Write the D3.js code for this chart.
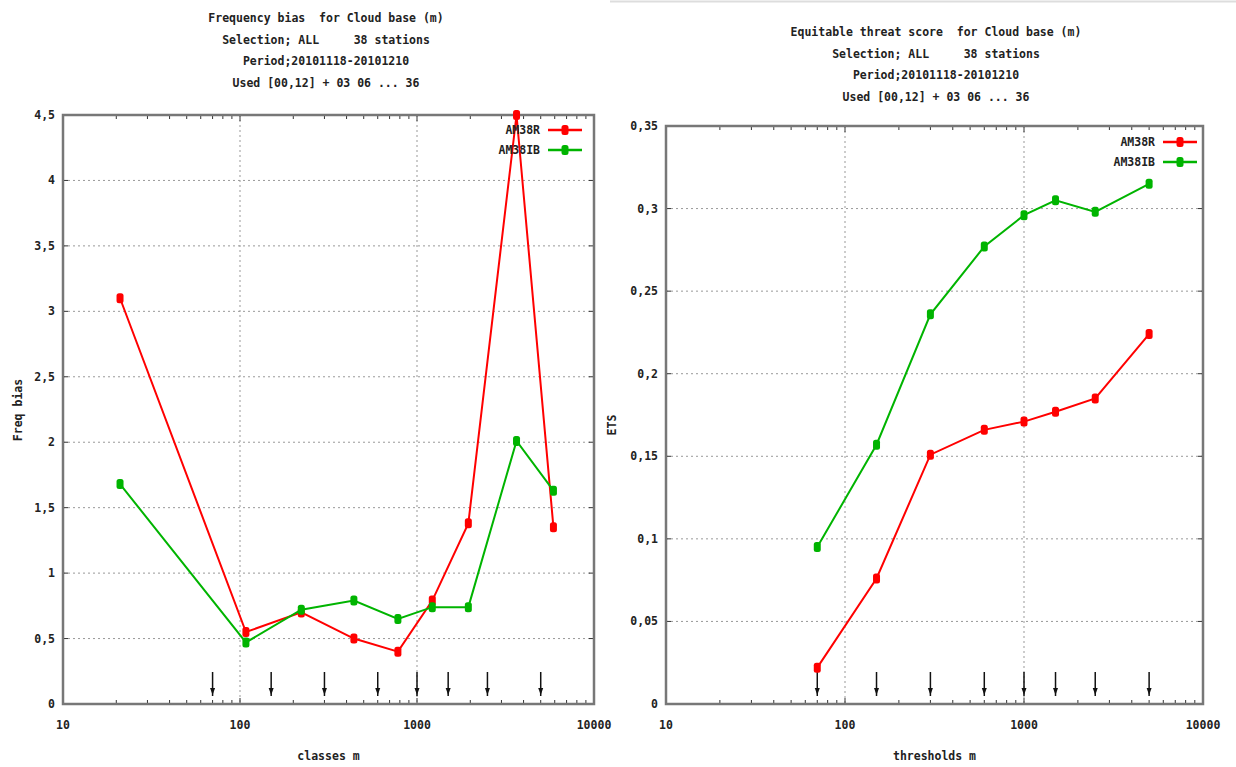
<!DOCTYPE html>
<html>
<head>
<meta charset="utf-8">
<script src="https://cdn.jsdelivr.net/npm/d3@7"></script>
<style>
  body { margin: 0; background: #fff; }
  text { font-family: "DejaVu Sans Mono", monospace; font-weight: bold; fill: #222; white-space: pre; }
</style>
</head>
<body>
<svg id="chart" width="1236" height="767"></svg>
<script>
// data
const classX = [21, 108, 222, 440, 780, 1220, 1950, 3650, 5900];
const biasAM38R = [3.1, 0.55, 0.70, 0.50, 0.40, 0.79, 1.38, 4.5, 1.35];
const biasAM38IB = [1.68, 0.47, 0.72, 0.79, 0.65, 0.74, 0.74, 2.01, 1.63];

const thresholds = [70, 150, 300, 600, 1000, 1500, 2500, 5000];
const etsAM38R = [0.022, 0.076, 0.151, 0.166, 0.171, 0.177, 0.185, 0.224];
const etsAM38IB = [0.095, 0.157, 0.236, 0.277, 0.296, 0.305, 0.298, 0.315];

const seriesNames = ['AM38R', 'AM38IB'];
const colors = ['#ff0000', '#00b400'];

const biasTicks = [0, 0.5, 1, 1.5, 2, 2.5, 3, 3.5, 4, 4.5];
const etsTicks = [0, 0.05, 0.1, 0.15, 0.2, 0.25, 0.3, 0.35];
const xMajor = [10, 100, 1000, 10000];

const svg = d3.select('#chart');
const fmt = v => String(v).replace('.', ',');

// thin separator at top of right panel
svg.append('line').attr('x1', 610).attr('x2', 1236).attr('y1', 1.5).attr('y2', 1.5)
  .attr('stroke', '#ddd').attr('stroke-width', 2);

function panel(o) {
  const g = svg.append('g');
  const x = d3.scaleLog().domain([10, 10000]).range([o.left, o.right]);
  const y = d3.scaleLinear().domain([0, o.ymax]).range([o.bottom, o.top]);

  // titles
  g.selectAll('.title').data(o.title).join('text')
    .attr('x', o.titleX).attr('y', (d, i) => o.titleY + i * 21.5)
    .attr('text-anchor', 'middle').attr('font-size', 11.5).text(d => d);

  // grid
  g.selectAll('.hgrid').data(o.yTicks.slice(1, -1)).join('line')
    .attr('x1', o.left).attr('x2', o.right).attr('y1', d => y(d)).attr('y2', d => y(d))
    .attr('stroke', '#999').attr('stroke-dasharray', '2,3').attr('stroke-width', 1);
  g.selectAll('.vgrid').data([100, 1000]).join('line')
    .attr('x1', d => x(d)).attr('x2', d => x(d)).attr('y1', o.top).attr('y2', o.bottom)
    .attr('stroke', '#999').attr('stroke-dasharray', '2,3').attr('stroke-width', 1);

  // y ticks both sides
  o.yTicks.forEach(t => {
    g.append('line').attr('x1', o.left).attr('x2', o.left + 5).attr('y1', y(t)).attr('y2', y(t)).attr('stroke', '#333');
    g.append('line').attr('x1', o.right).attr('x2', o.right - 5).attr('y1', y(t)).attr('y2', y(t)).attr('stroke', '#333');
  });
  g.selectAll('.ylab').data(o.yTicks).join('text')
    .attr('x', o.left - 8).attr('y', d => y(d) + 4)
    .attr('text-anchor', 'end').attr('font-size', 11.5).text(fmt);

  // x ticks (log minor) both sides
  const xt = x.ticks();
  xt.forEach(t => {
    const major = xMajor.includes(t);
    const len = major ? 6 : 4;
    g.append('line').attr('x1', x(t)).attr('x2', x(t)).attr('y1', o.bottom).attr('y2', o.bottom - len).attr('stroke', '#333');
    g.append('line').attr('x1', x(t)).attr('x2', x(t)).attr('y1', o.top).attr('y2', o.top + len).attr('stroke', '#333');
  });
  g.selectAll('.xlab').data(xMajor).join('text')
    .attr('x', d => x(d)).attr('y', o.bottom + 25)
    .attr('text-anchor', 'middle').attr('font-size', 11.5).text(d => d);

  // frame
  g.append('rect').attr('x', o.left).attr('y', o.top)
    .attr('width', o.right - o.left).attr('height', o.bottom - o.top)
    .attr('fill', 'none').attr('stroke', '#777').attr('stroke-width', 2.5);

  // axis titles
  g.append('text').attr('x', (o.left + o.right) / 2).attr('y', o.bottom + 56)
    .attr('text-anchor', 'middle').attr('font-size', 11.5).text(o.xTitle);
  g.append('text').attr('transform', `translate(${o.yTitleX},${o.yTitleY}) rotate(-90)`)
    .attr('text-anchor', 'middle').attr('font-size', 11.5).text(o.yTitle);

  // threshold arrows
  thresholds.forEach(t => {
    const ax = x(t);
    g.append('line').attr('x1', ax).attr('x2', ax).attr('y1', o.bottom - 32).attr('y2', o.bottom - 8)
      .attr('stroke', '#111').attr('stroke-width', 1.5);
    g.append('path')
      .attr('d', d3.line()([[ax - 2.5, o.bottom - 16], [ax + 2.5, o.bottom - 16], [ax, o.bottom - 9]]) + 'Z')
      .attr('fill', '#111');
  });

  // series
  o.series.forEach((vals, k) => {
    const pts = vals.map((v, i) => [x(o.xs[i]), y(v)]);
    g.append('path').attr('d', d3.line()(pts)).attr('fill', 'none')
      .attr('stroke', colors[k]).attr('stroke-width', 2);
    g.selectAll(null).data(pts).join('rect')
      .attr('x', d => d[0] - 3.5).attr('y', d => d[1] - 5).attr('width', 7).attr('height', 10)
      .attr('rx', 2.5).attr('fill', colors[k]);
  });

  // legend
  seriesNames.forEach((n, k) => {
    const ly = o.legY + k * 20;
    g.append('text').attr('x', o.legX).attr('y', ly + 4).attr('text-anchor', 'end')
      .attr('font-size', 11.5).text(n);
    g.append('line').attr('x1', o.legX + 8).attr('x2', o.legX + 42).attr('y1', ly).attr('y2', ly)
      .attr('stroke', colors[k]).attr('stroke-width', 2.5);
    g.append('rect').attr('x', o.legX + 21.5).attr('y', ly - 5).attr('width', 7).attr('height', 10)
      .attr('rx', 2.5).attr('fill', colors[k]);
  });
}

panel({
  left: 63, right: 594, top: 115, bottom: 704, ymax: 4.5,
  yTicks: biasTicks, xs: classX, series: [biasAM38R, biasAM38IB],
  title: ['Frequency bias  for Cloud base (m)', 'Selection; ALL     38 stations',
          'Period;20101118-20101210', 'Used [00,12] + 03 06 ... 36'],
  titleX: 326, titleY: 22,
  xTitle: 'classes m', yTitle: 'Freq bias', yTitleX: 22, yTitleY: 410,
  legX: 540, legY: 130
});

panel({
  left: 666, right: 1203, top: 126, bottom: 704, ymax: 0.35,
  yTicks: etsTicks, xs: thresholds, series: [etsAM38R, etsAM38IB],
  title: ['Equitable threat score  for Cloud base (m)', 'Selection; ALL     38 stations',
          'Period;20101118-20101210', 'Used [00,12] + 03 06 ... 36'],
  titleX: 936, titleY: 36,
  xTitle: 'thresholds m', yTitle: 'ETS', yTitleX: 616, yTitleY: 425,
  legX: 1155, legY: 142
});
</script>
</body>
</html>
